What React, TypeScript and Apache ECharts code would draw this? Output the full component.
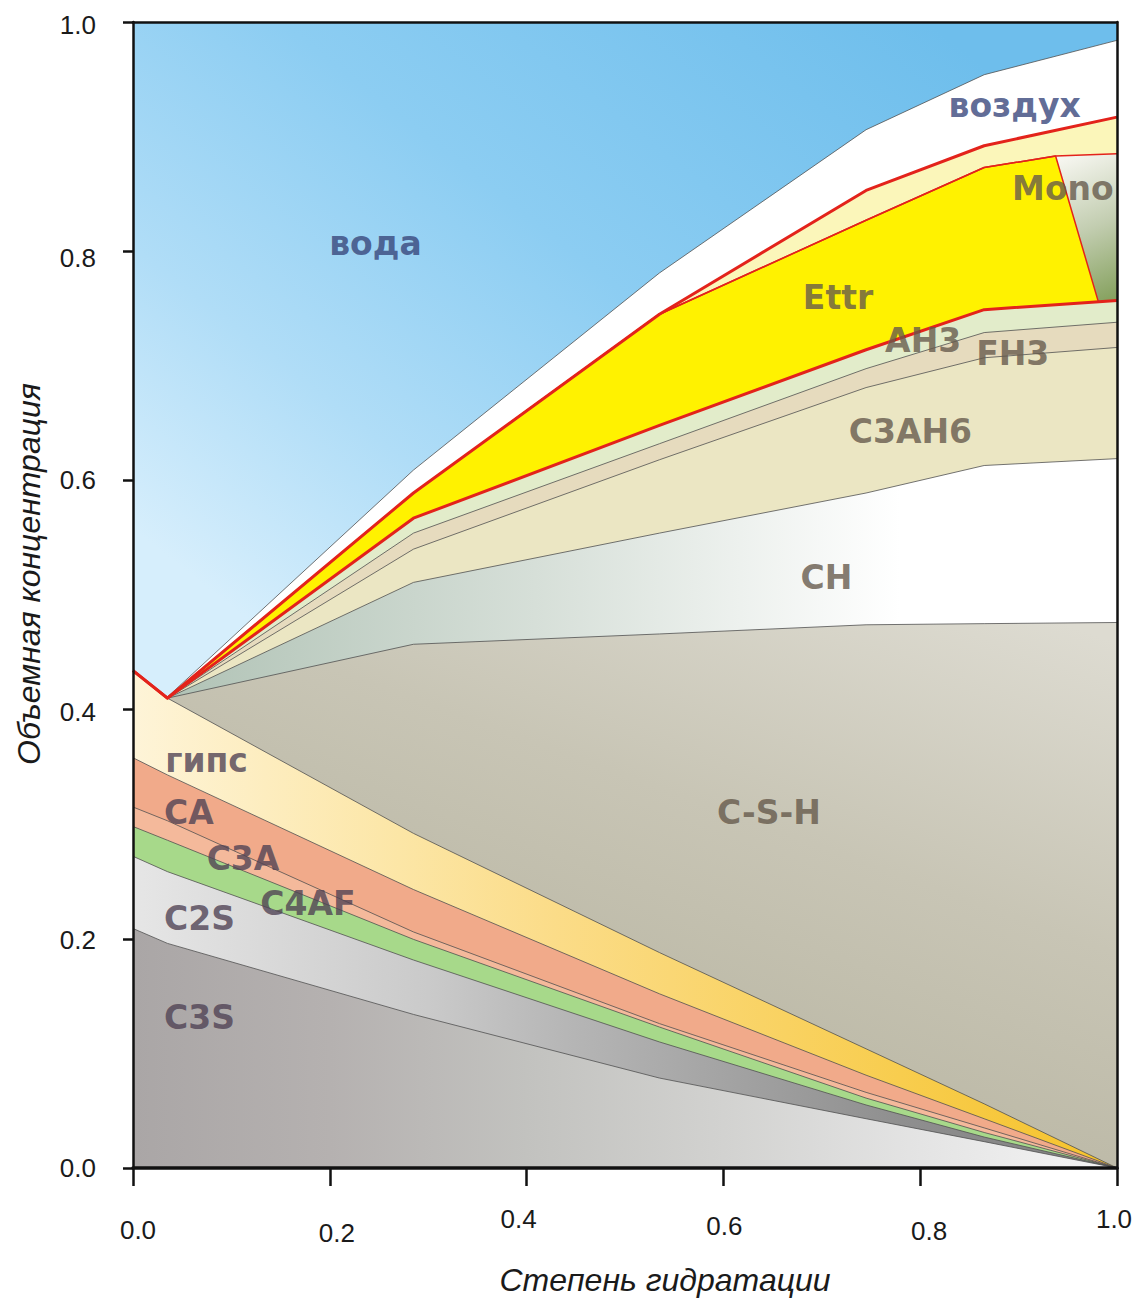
import React, { useEffect, useRef } from 'react';
import * as echarts from 'echarts';

// ---- x breakpoints (степень гидратации) ----
const X_WATER = [0, 1];
const X_MAIN = [0, 0.035, 0.285, 0.535, 0.745, 0.865, 1.0];
const X_MONO = [0, 0.035, 0.285, 0.535, 0.745, 0.865, 0.9376, 1.0];
const X_ETTR = [0, 0.035, 0.285, 0.535, 0.745, 0.865, 0.9376, 0.981, 1.0];

// ---- upper boundary (cumulative volume fraction) of every phase ----
const waterTop = [1.0, 1.0];
const airTop = [0.434, 0.411, 0.609, 0.781, 0.906, 0.954, 0.984];
const afmTop = [0.434, 0.41, 0.589, 0.745, 0.853, 0.892, 0.917];
const monoTop = [0.434, 0.41, 0.589, 0.745, 0.827, 0.873, 0.883, 0.885];
const ettrTop = [0.434, 0.41, 0.589, 0.745, 0.827, 0.873, 0.883, 0.756, 0.757];
const ah3Top = [0.434, 0.41, 0.567, 0.648, 0.714, 0.749, 0.757];
const fh3Top = [0.434, 0.41, 0.554, 0.632, 0.6975, 0.729, 0.738];
const c3ah6Top = [0.434, 0.41, 0.54, 0.618, 0.681, 0.707, 0.716];
const chTop = [0.434, 0.41, 0.511, 0.554, 0.589, 0.613, 0.619];
const cshTop = [0.434, 0.41, 0.457, 0.466, 0.474, 0.475, 0.476];
const gypsumTop = [0.434, 0.41, 0.292, 0.188, 0.104, 0.056, 0];
const caTop = [0.358, 0.343, 0.243, 0.152, 0.081, 0.043, 0];
const c3aTop = [0.315, 0.303, 0.206, 0.126, 0.066, 0.035, 0];
const c4afTop = [0.298, 0.286, 0.1995, 0.123, 0.061, 0.031, 0];
const c2sTop = [0.272, 0.2586, 0.1815, 0.11, 0.055, 0.027, 0];
const c3sTop = [0.209, 0.196, 0.134, 0.0785, 0.043, 0.023, 0];

// ---- tick labels ----
const TICK_VALUES = [0, 0.2, 0.4, 0.6, 0.8, 1.0];
const tickLabel = (v: number) => v.toFixed(1);

// ---- region labels (data coordinates) ----
const LABEL_TEXT = ['вода', 'воздух', 'Mono', 'Ettr', 'AH3', 'FH3', 'C3AH6', 'CH', 'C-S-H', 'гипс', 'CA', 'C3A', 'C4AF', 'C2S', 'C3S'];
const LABEL_X = [0.2464, 0.896, 0.945, 0.7165, 0.803, 0.894, 0.79, 0.7048, 0.6463, 0.0747, 0.0569, 0.1118, 0.1778, 0.0676, 0.0676];
const LABEL_Y = [0.8066, 0.927, 0.855, 0.76, 0.7225, 0.711, 0.6427, 0.5157, 0.3098, 0.3555, 0.3098, 0.2705, 0.2308, 0.2177, 0.1309];

// ---- styles ----
const RED = '#e3231b';
const EDGE = '#505050';
const BLUE_TXT = '#37457a';
const BROWN_TXT = '#65594b';
const PURPLE_TXT = '#4f4254';
const LABEL_COLOR = [BLUE_TXT, BLUE_TXT, BROWN_TXT, BROWN_TXT, BROWN_TXT, BROWN_TXT, BROWN_TXT, BROWN_TXT, BROWN_TXT,
  PURPLE_TXT, PURPLE_TXT, PURPLE_TXT, PURPLE_TXT, PURPLE_TXT, PURPLE_TXT];
const X_LBL_DY = [11, 14, 0, 7, 12, 0];
const X_LBL_DX = [5, 7, -8, 1, 9, -3];
const Y_LBL_DY = [0, 1, 2, 0, 7, 3];
const AXIS_FONT = "'Liberation Sans', Arial, Helvetica, sans-serif";
const LABEL_FONT = "'DejaVu Sans', 'Liberation Sans', sans-serif";

const grad = (x: number, y: number, x2: number, y2: number, stops: [number, string][]) => ({
  type: 'linear', x, y, x2, y2, global: true,
  colorStops: stops.map(([offset, color]) => ({ offset, color })),
});

const pts = (xs: number[], ys: number[]) => xs.map((x, i) => [x, ys[i]]);

export default function App() {
  const ref = useRef<HTMLDivElement>(null);

  useEffect(() => {
    if (!ref.current) return;
    const chart = echarts.init(ref.current, null, { renderer: 'svg' });

    const waterFill = grad(900, 0, 350, 700, [[0, '#6ebeec'], [0.45, '#8ccdf2'], [0.75, '#b0ddf7'], [1, '#d6eefc']]);
    const monoFill = grad(1058, 160, 1117, 300, [[0, '#f6f6f0'], [0.5, '#c2cdb0'], [1, '#84a05c']]);
    const chFill = grad(170, 0, 900, 0, [[0, '#b1c3b6'], [0.5, '#d6dfd8'], [1, '#ffffff']]);
    const cshFill = grad(1000, 600, 800, 1150, [[0, '#dddbd1'], [0.5, '#c8c5b5'], [1, '#b9b6a3']]);
    const gypsumFill = grad(133, 0, 1117, 0, [[0, '#fef4d8'], [0.27, '#fce6a6'], [0.43, '#fbdc88'], [0.78, '#f8cd4e'], [1, '#f5c22a']]);
    const c2sFill = grad(133, 0, 1117, 0, [[0, '#e6e6e6'], [0.3, '#cacaca'], [0.44, '#b6b6b6'], [0.78, '#8f8f8f'], [1, '#7f7f7f']]);
    const c3sFill = grad(133, 0, 1117, 0, [[0, '#aaa6a6'], [0.2, '#b5b1b0'], [0.4, '#c2c2bf'], [0.6, '#d2d2d0'], [0.8, '#e4e4e4'], [1, '#f5f5f5']]);

    const layers: { name: string; xs: number[]; ys: number[]; fill: any; line: string; width: number }[] = [
      { name: 'вода', xs: X_WATER, ys: waterTop, fill: waterFill, line: EDGE, width: 0 },
      { name: 'воздух', xs: X_MAIN, ys: airTop, fill: '#ffffff', line: EDGE, width: 0.8 },
      { name: 'AFm', xs: X_MAIN, ys: afmTop, fill: '#fbf6ba', line: RED, width: 0 },
      { name: 'Mono', xs: X_MONO, ys: monoTop, fill: monoFill, line: RED, width: 1.5 },
      { name: 'Ettr', xs: X_ETTR, ys: ettrTop, fill: '#fff200', line: RED, width: 1.5 },
      { name: 'AH3', xs: X_MAIN, ys: ah3Top, fill: '#e2ecca', line: RED, width: 0 },
      { name: 'FH3', xs: X_MAIN, ys: fh3Top, fill: '#e6dbbe', line: EDGE, width: 0.8 },
      { name: 'C3AH6', xs: X_MAIN, ys: c3ah6Top, fill: '#ebe6c3', line: EDGE, width: 0.8 },
      { name: 'CH', xs: X_MAIN, ys: chTop, fill: chFill, line: EDGE, width: 0.8 },
      { name: 'C-S-H', xs: X_MAIN, ys: cshTop, fill: cshFill, line: EDGE, width: 0.8 },
      { name: 'гипс', xs: X_MAIN, ys: gypsumTop, fill: gypsumFill, line: EDGE, width: 0.8 },
      { name: 'CA', xs: X_MAIN, ys: caTop, fill: '#f1aa8a', line: EDGE, width: 0.8 },
      { name: 'C3A', xs: X_MAIN, ys: c3aTop, fill: '#f4b99b', line: EDGE, width: 0.8 },
      { name: 'C4AF', xs: X_MAIN, ys: c4afTop, fill: '#a7d98a', line: EDGE, width: 0.8 },
      { name: 'C2S', xs: X_MAIN, ys: c2sTop, fill: c2sFill, line: EDGE, width: 0.8 },
      { name: 'C3S', xs: X_MAIN, ys: c3sTop, fill: c3sFill, line: EDGE, width: 0.8 },
    ];

    const areaSeries = layers.map((l) => ({
      type: 'line',
      name: l.name,
      data: pts(l.xs, l.ys),
      symbol: 'none',
      silent: true,
      z: 2,
      lineStyle: { color: l.line, width: l.width },
      areaStyle: { color: l.fill, opacity: 1, origin: 'start' },
    }));

    const redLines = [afmTop, ah3Top].map((ys) => ({
      type: 'line',
      data: pts(X_MAIN, ys),
      symbol: 'none',
      silent: true,
      z: 3,
      lineStyle: { color: RED, width: 3, join: 'round' },
    }));

    const labelSeries = {
      type: 'scatter',
      symbolSize: 1,
      silent: true,
      z: 5,
      itemStyle: { color: 'rgba(0,0,0,0)' },
      data: LABEL_TEXT.map((t, i) => ({
        name: t,
        value: [LABEL_X[i], LABEL_Y[i]],
        label: { color: LABEL_COLOR[i] },
      })),
      label: {
        show: true,
        position: 'inside',
        formatter: '{b}',
        fontFamily: LABEL_FONT,
        fontWeight: 'bold',
        fontSize: 33,
        align: 'center',
        verticalAlign: 'middle',
      },
    };

    const xRich: Record<string, any> = {};
    TICK_VALUES.forEach((_, i) => {
      const dx = X_LBL_DX[i];
      xRich['t' + i] = { padding: [X_LBL_DY[i], dx < 0 ? -2 * dx : 0, 0, dx > 0 ? 2 * dx : 0] };
    });
    const yRich: Record<string, any> = {};
    TICK_VALUES.forEach((_, i) => {
      yRich['t' + i] = { padding: [2 * Y_LBL_DY[i], 0, 0, 0] };
    });

    const option = {
      animation: false,
      backgroundColor: '#ffffff',
      grid: { left: 133, right: 16, top: 22, bottom: 130, containLabel: false, outerBoundsMode: 'none' },
      xAxis: [
        {
          type: 'value', min: 0, max: 1, interval: 0.2, z: 10,
          axisLine: { show: true, onZero: false, lineStyle: { color: '#111', width: 3.5 } },
          axisTick: { show: true, inside: false, length: 18, lineStyle: { color: '#111', width: 2.5 } },
          splitLine: { show: false },
          axisLabel: {
            show: true, margin: 38, fontSize: 26, fontFamily: AXIS_FONT, color: '#1a1a1a',
            formatter: (v: number) => `{t${TICK_VALUES.findIndex((t) => Math.abs(t - v) < 1e-6)}|${tickLabel(v)}}`,
            rich: xRich,
          },
          name: 'Степень гидратации',
          nameLocation: 'middle',
          nameGap: 96,
          nameTextStyle: { fontSize: 32, fontStyle: 'italic', fontFamily: AXIS_FONT, color: '#1a1a1a', padding: [0, 0, 0, 80] },
        },
        {
          type: 'value', min: 0, max: 1, position: 'top', z: 10,
          axisLine: { show: true, onZero: false, lineStyle: { color: '#111', width: 2.5 } },
          axisTick: { show: false }, axisLabel: { show: false }, splitLine: { show: false },
        },
      ],
      yAxis: [
        {
          type: 'value', min: 0, max: 1, interval: 0.2, z: 10,
          axisLine: { show: true, onZero: false, lineStyle: { color: '#111', width: 2.5 } },
          axisTick: { show: true, inside: false, length: 10, lineStyle: { color: '#111', width: 2.5 } },
          splitLine: { show: false },
          axisLabel: {
            show: true, margin: 37, fontSize: 26, fontFamily: AXIS_FONT, color: '#1a1a1a',
            formatter: (v: number) => `{t${TICK_VALUES.findIndex((t) => Math.abs(t - v) < 1e-6)}|${tickLabel(v)}}`,
            rich: yRich,
          },
          name: 'Объемная концентрация',
          nameLocation: 'middle',
          nameRotate: 90,
          nameGap: 88,
          nameTextStyle: { fontSize: 32, fontStyle: 'italic', fontFamily: AXIS_FONT, color: '#1a1a1a', padding: [0, 0, 0, 42] },
        },
        {
          type: 'value', min: 0, max: 1, position: 'right', z: 10,
          axisLine: { show: true, onZero: false, lineStyle: { color: '#111', width: 2.5 } },
          axisTick: { show: false }, axisLabel: { show: false }, splitLine: { show: false },
        },
      ],
      series: [...areaSeries, ...redLines, labelSeries],
    };

    chart.setOption(option as any);
    return () => chart.dispose();
  }, []);

  return <div ref={ref} style={{ position: 'absolute', left: 0, top: 0, width: 1133, height: 1298 }} />;
}
